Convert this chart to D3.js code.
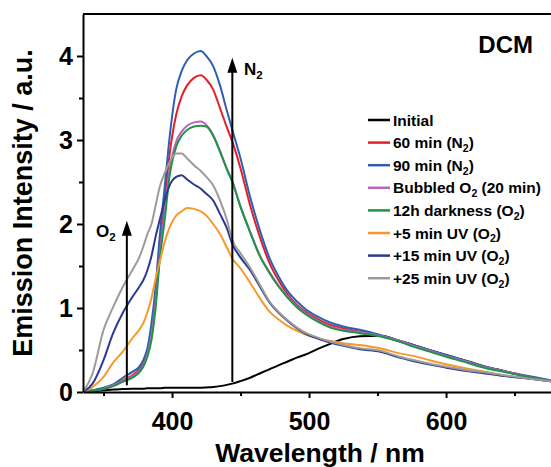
<!DOCTYPE html>
<html>
<head>
<meta charset="utf-8">
<script src="https://cdn.jsdelivr.net/npm/d3@7"></script>
<style>
  body { margin: 0; background: #fff; }
  svg { display: block; font-family: "Liberation Sans", Arial, sans-serif; font-weight: bold; }
</style>
</head>
<body>
<div id="chart"></div>
<script>
// wavelength grid (nm) shared by every spectrum
const wavelengths = [335, 342, 350, 357, 364, 371, 376, 379, 382, 385, 388, 391, 395, 398, 403, 407, 411, 416, 421, 425,
  430, 435, 440, 444, 450, 457, 464, 471, 478, 484, 491, 498, 506, 515, 525, 537, 552, 566, 576, 590,
  600, 615, 625, 642, 660, 680];

const initial = [0.0, 0.01, 0.02, 0.03, 0.035, 0.04, 0.04, 0.04, 0.045, 0.045, 0.045, 0.045, 0.05, 0.05, 0.05, 0.05, 0.05, 0.05, 0.05, 0.055,
  0.06, 0.07, 0.085, 0.10, 0.13, 0.17, 0.22, 0.27, 0.32, 0.36, 0.41, 0.45, 0.51, 0.57, 0.63, 0.665, 0.67, 0.61, 0.56, 0.49,
  0.44, 0.37, 0.32, 0.25, 0.18, 0.12];

const n2_60 = [0.0, 0.02, 0.04, 0.08, 0.14, 0.20, 0.27, 0.34, 0.48, 0.75, 1.15, 1.70, 2.35, 2.80, 3.30, 3.52, 3.65, 3.74, 3.77, 3.72,
  3.60, 3.38, 3.15, 2.98, 2.66, 2.22, 1.85, 1.54, 1.32, 1.17, 1.04, 0.95, 0.87, 0.80, 0.76, 0.72, 0.67, 0.60, 0.55, 0.48,
  0.43, 0.36, 0.31, 0.25, 0.18, 0.12];

const n2_90 = [0.0, 0.02, 0.05, 0.09, 0.17, 0.24, 0.30, 0.38, 0.52, 0.82, 1.25, 1.85, 2.50, 3.00, 3.60, 3.82, 3.95, 4.03, 4.06, 4.00,
  3.88, 3.65, 3.35, 3.12, 2.78, 2.32, 1.93, 1.60, 1.37, 1.21, 1.08, 0.98, 0.90, 0.83, 0.78, 0.74, 0.68, 0.61, 0.56, 0.49,
  0.44, 0.37, 0.32, 0.25, 0.19, 0.13];

const bubbledO2 = [0.0, 0.015, 0.04, 0.08, 0.13, 0.19, 0.25, 0.32, 0.45, 0.68, 1.08, 1.62, 2.20, 2.62, 2.98, 3.10, 3.17, 3.21, 3.22, 3.18,
  3.06, 2.87, 2.66, 2.51, 2.21, 1.91, 1.63, 1.43, 1.26, 1.14, 1.02, 0.93, 0.85, 0.78, 0.74, 0.71, 0.67, 0.61, 0.55, 0.48,
  0.43, 0.36, 0.31, 0.25, 0.18, 0.12];

const dark12h = [0.0, 0.015, 0.035, 0.07, 0.12, 0.17, 0.23, 0.30, 0.42, 0.62, 1.00, 1.57, 2.10, 2.55, 2.92, 3.05, 3.12, 3.16, 3.17, 3.16,
  3.05, 2.86, 2.65, 2.50, 2.20, 1.90, 1.62, 1.42, 1.25, 1.13, 1.01, 0.92, 0.84, 0.77, 0.73, 0.70, 0.66, 0.60, 0.54, 0.47,
  0.42, 0.35, 0.30, 0.24, 0.18, 0.12];

const uv5 = [0.0, 0.06, 0.18, 0.35, 0.48, 0.64, 0.74, 0.82, 0.95, 1.12, 1.35, 1.55, 1.81, 1.95, 2.10, 2.15, 2.19, 2.18, 2.15, 2.10,
  2.00, 1.88, 1.72, 1.59, 1.47, 1.30, 1.12, 0.96, 0.86, 0.79, 0.73, 0.68, 0.64, 0.61, 0.58, 0.56, 0.52, 0.46, 0.43, 0.37,
  0.33, 0.28, 0.25, 0.20, 0.16, 0.12];

const uv15 = [0.0, 0.10, 0.38, 0.70, 0.94, 1.13, 1.25, 1.33, 1.45, 1.62, 1.85, 2.05, 2.30, 2.45, 2.56, 2.58, 2.53, 2.47, 2.42, 2.36,
  2.28, 2.12, 1.95, 1.76, 1.60, 1.45, 1.26, 1.07, 0.94, 0.85, 0.76, 0.69, 0.64, 0.59, 0.55, 0.51, 0.48, 0.41, 0.37, 0.32,
  0.29, 0.25, 0.23, 0.19, 0.16, 0.12];

const uv25 = [0.0, 0.22, 0.74, 1.01, 1.25, 1.45, 1.60, 1.73, 1.88, 2.00, 2.22, 2.44, 2.62, 2.73, 2.84, 2.84, 2.78, 2.70, 2.63, 2.56,
  2.46, 2.28, 2.05, 1.81, 1.65, 1.48, 1.28, 1.08, 0.95, 0.86, 0.77, 0.70, 0.65, 0.60, 0.56, 0.52, 0.49, 0.42, 0.38, 0.33,
  0.30, 0.26, 0.24, 0.20, 0.16, 0.12];

const seriesNames = ["Initial", "60 min (N2)", "90 min (N2)", "Bubbled O2 (20 min)", "12h darkness (O2)",
  "+5 min UV (O2)", "+15 min UV (O2)", "+25 min UV (O2)"];
const seriesValues = [initial, n2_60, n2_90, bubbledO2, dark12h, uv5, uv15, uv25];
const seriesColors = ["#000000", "#e3202a", "#2e5fb0", "#b865bd", "#1f9447", "#f59a2a", "#2b3990", "#9b9b9b"];

const xTicks = [400, 500, 600];
const xMinor = [350, 450, 550, 650];
const yTicks = [0, 1, 2, 3, 4];
const yMinor = [0.5, 1.5, 2.5, 3.5];

const width = 551;
const height = 467;
const marginLeft = 83;
const marginTop = 14;
const plotBottom = 392;

const x = d3.scaleLinear().domain([335, 680]).range([marginLeft, marginLeft + 345 * 1.37]);
const y = d3.scaleLinear().domain([0, 4.5]).range([plotBottom, marginTop]);

const svg = d3.select("#chart").append("svg")
  .attr("width", width)
  .attr("height", height)
  .attr("viewBox", [0, 0, width, height]);

svg.append("defs").append("clipPath").attr("id", "plot")
  .append("rect")
  .attr("x", marginLeft).attr("y", marginTop)
  .attr("width", width - marginLeft).attr("height", plotBottom - marginTop);

const line = d3.line()
  .x((d, i) => x(wavelengths[i]))
  .y(d => y(d))
  .curve(d3.curveMonotoneX);

svg.append("g")
  .attr("clip-path", "url(#plot)")
  .attr("fill", "none")
  .attr("stroke-width", 2)
  .attr("stroke-linejoin", "round")
  .selectAll("path")
  .data(seriesValues)
  .join("path")
  .attr("stroke", (d, i) => seriesColors[i])
  .attr("d", line);

// axes
svg.append("g")
  .attr("transform", `translate(0,${plotBottom})`)
  .call(d3.axisBottom(x).tickValues(xTicks).tickSize(6).tickSizeOuter(0).tickPadding(14));
svg.append("g")
  .attr("transform", `translate(0,${plotBottom})`)
  .call(d3.axisBottom(x).tickValues(xMinor).tickSize(4).tickSizeOuter(0).tickFormat(""))
  .call(g => g.select(".domain").remove());

svg.append("g")
  .attr("transform", `translate(${marginLeft},0)`)
  .call(d3.axisLeft(y).tickValues(yTicks).tickSize(6).tickSizeOuter(0).tickPadding(4).tickFormat(d3.format("d")));
svg.append("g")
  .attr("transform", `translate(${marginLeft},0)`)
  .call(d3.axisLeft(y).tickValues(yMinor).tickSize(4).tickSizeOuter(0).tickFormat(""))
  .call(g => g.select(".domain").remove());

svg.selectAll(".domain").attr("stroke-width", 2);
svg.selectAll(".tick line").attr("stroke-width", 2);
svg.selectAll(".tick text")
  .attr("font-size", 25)
  .attr("font-weight", "bold")
  .attr("font-family", '"Liberation Sans", Arial, sans-serif')
  .attr("fill", "#000");

// top frame line
svg.append("line")
  .attr("x1", marginLeft).attr("x2", width)
  .attr("y1", marginTop).attr("y2", marginTop)
  .attr("stroke", "#000").attr("stroke-width", 2);

// axis titles
svg.append("text")
  .attr("x", 320).attr("y", 462)
  .attr("text-anchor", "middle")
  .attr("font-size", 26.5)
  .text("Wavelength / nm");

svg.append("text")
  .attr("transform", `translate(32,${(marginTop + plotBottom) / 2}) rotate(-90)`)
  .attr("text-anchor", "middle")
  .attr("font-size", 27)
  .text("Emission Intensity / a.u.");

svg.append("text")
  .attr("x", 533).attr("y", 53)
  .attr("text-anchor", "end")
  .attr("font-size", 24)
  .text("DCM");

// text with a subscript 2 (N2 / O2), fs = base font size in px
function subText(sel, label, fs) {
  const parts = label.split(/(N2|O2)/);
  let shift = 0;
  parts.forEach(p => {
    if (p === "N2" || p === "O2") {
      sel.append("tspan").attr("dy", -shift).text(p[0]);
      sel.append("tspan").attr("font-size", fs * 0.68).attr("dy", fs * 0.25).text("2");
      shift = fs * 0.25;
    } else if (p) {
      sel.append("tspan").attr("dy", -shift).text(p);
      shift = 0;
    }
  });
}

// arrows
function arrow(xv, y0, y1) {
  const ax = x(xv);
  svg.append("line")
    .attr("x1", ax).attr("x2", ax)
    .attr("y1", y(y0)).attr("y2", y(y1) + 12)
    .attr("stroke", "#000").attr("stroke-width", 2);
  svg.append("path")
    .attr("d", `M${ax},${y(y1)} L${ax - 5},${y(y1) + 15} L${ax + 5},${y(y1) + 15} Z`)
    .attr("fill", "#000");
}
arrow(367, 0.08, 2.04);
arrow(444, 0.12, 3.98);

svg.append("text").attr("x", 96).attr("y", 237).attr("font-size", 17).call(subText, "O2", 17);
svg.append("text").attr("x", 244).attr("y", 75).attr("font-size", 17).call(subText, "N2", 17);

// legend
const legend = svg.append("g").attr("font-size", 15.5);
seriesNames.forEach((name, i) => {
  const ly = 120 + i * 22.6;
  legend.append("line")
    .attr("x1", 368).attr("x2", 390)
    .attr("y1", ly).attr("y2", ly)
    .attr("stroke", seriesColors[i]).attr("stroke-width", 2.5);
  legend.append("text")
    .attr("x", 393).attr("y", ly + 5.5)
    .call(subText, name, 15.5);
});
</script>
</body>
</html>
